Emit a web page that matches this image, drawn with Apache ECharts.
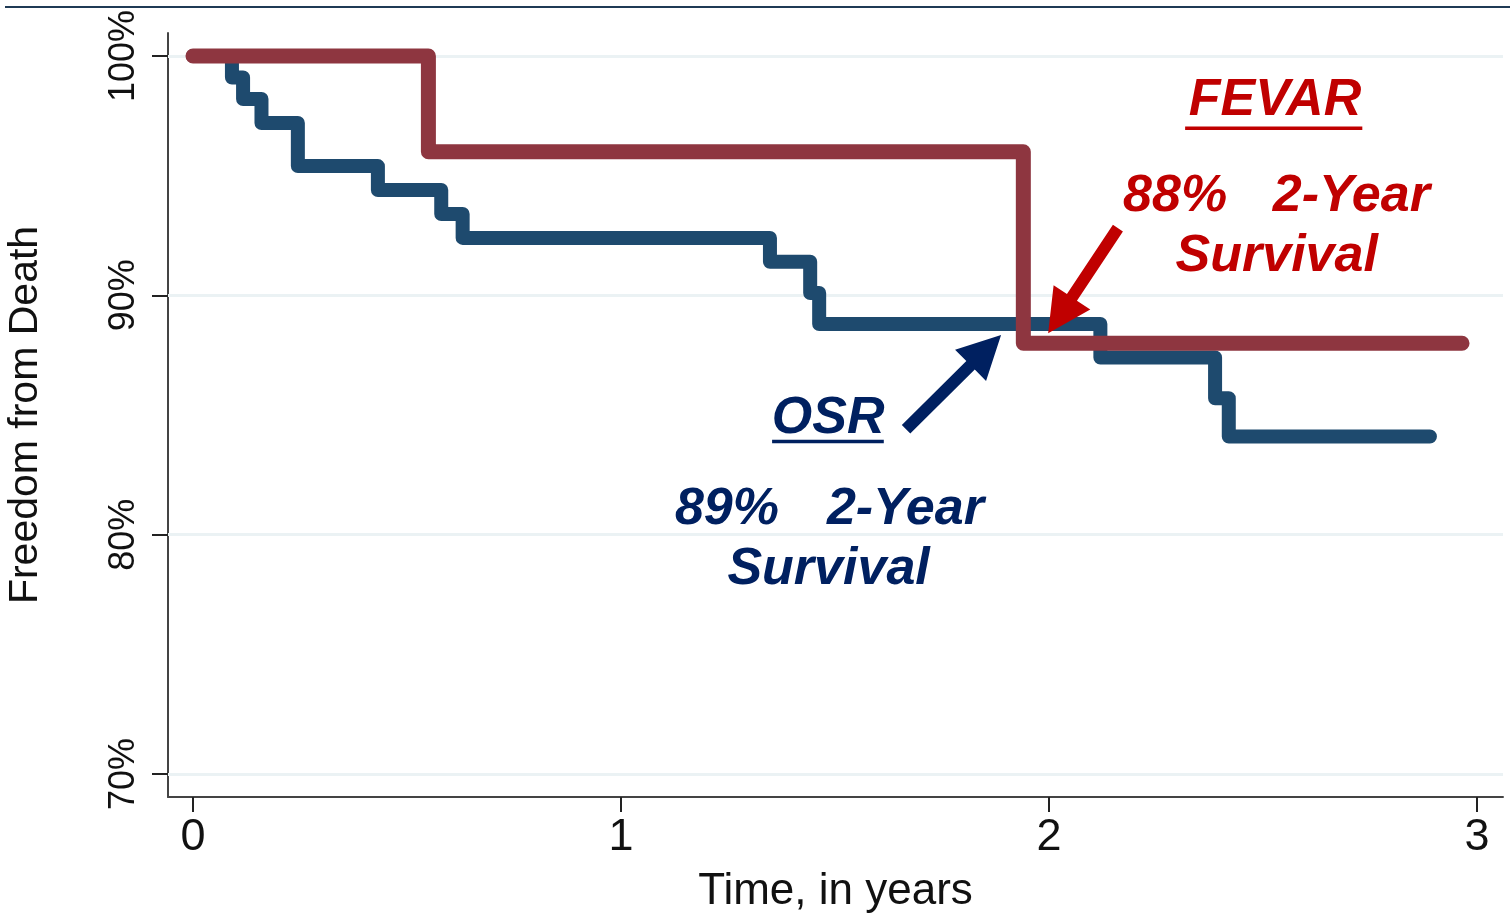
<!DOCTYPE html>
<html>
<head>
<meta charset="utf-8">
<script src="https://cdn.jsdelivr.net/npm/echarts@6/dist/echarts.min.js"></script>
<style>
html,body{margin:0;padding:0;background:#fff;}
#chart{width:1510px;height:916px;}
</style>
</head>
<body>
<div id="chart"></div>
<script>
// ---- Data ----
var osrTime   = [0, 0.091, 0.117, 0.160, 0.245, 0.432, 0.580, 0.630, 1.348, 1.442, 1.463, 2.120, 2.388, 2.420, 2.890];
var osrSurv   = [100, 99.1, 98.2, 97.2, 95.4, 94.4, 93.4, 92.4, 91.4, 90.1, 88.8, 87.4, 85.7, 84.1, 84.1];
var fevarTime = [0, 0.550, 1.940, 2.965];
var fevarSurv = [100, 96.0, 88.0, 88.0];
var xTicks = [0, 1, 2, 3];
var yTicks = [70, 80, 90, 100];
var yTickLabels = ['70%', '80%', '90%', '100%'];

var RED_LINE = '#8E3640', BLUE_LINE = '#1E4A6E';
var RED_TXT = '#C00000', NAVY_TXT = '#002060';
var sans = "'Liberation Sans',Arial,Helvetica,sans-serif";

function pairs(xs, ys){ return xs.map(function(x,i){ return [x, ys[i]]; }); }

var chart = echarts.init(document.getElementById('chart'));
chart.setOption({
  animation: false,
  backgroundColor: '#fff',
  grid: {left: 168, right: 7, top: 33, bottom: 119, containLabel: false, outerBoundsMode: 'none'},
  xAxis: {
    type: 'value', min: -0.0584, max: 3.0607,
    name: 'Time, in years', nameLocation: 'middle', nameGap: 73,
    nameTextStyle: {fontFamily: sans, fontSize: 44, color: '#111'},
    axisLine: {onZero: false, lineStyle: {color: '#444', width: 2}},
    axisTick: {customValues: xTicks, length: 15, lineStyle: {color: '#222', width: 2}},
    axisLabel: {customValues: xTicks, margin: 18, fontFamily: sans, fontSize: 45, color: '#111'},
    splitLine: {show: false}
  },
  yAxis: {
    type: 'value', min: 69.04, max: 100.96,
    name: 'Freedom from Death', nameLocation: 'middle', nameGap: 122,
    nameTextStyle: {fontFamily: sans, fontSize: 41, color: '#111'},
    axisLine: {onZero: false, lineStyle: {color: '#444', width: 2}},
    axisTick: {customValues: yTicks, length: 16, lineStyle: {color: '#222', width: 2}},
    axisLabel: {customValues: yTicks, rotate: 90, margin: 26, fontFamily: sans, fontSize: 36, color: '#111',
      formatter: function(v){ var i = yTicks.indexOf(v); return i >= 0 ? yTickLabels[i] : ''; }},
    splitLine: {show: false}
  },
  series: [
    {
      type: 'line', data: [], z: 1, silent: true,
      markLine: {silent: true, z: 1, zlevel: 0, symbol: 'none', label: {show: false},
        lineStyle: {color: '#EBF2F4', width: 3, type: 'solid'},
        data: yTicks.map(function(v){ return {yAxis: v}; })}
    },
    {
      name: 'OSR', type: 'line', step: 'end', z: 3, symbol: 'none',
      data: pairs(osrTime, osrSurv),
      lineStyle: {color: BLUE_LINE, width: 14, cap: 'round', join: 'round'}
    },
    {
      name: 'FEVAR', type: 'line', step: 'end', z: 4, symbol: 'none',
      data: pairs(fevarTime, fevarSurv),
      lineStyle: {color: RED_LINE, width: 15, cap: 'round', join: 'round'}
    }
  ]
});

// ---- Annotations (positions in data coordinates) ----
var texts = [
  {t: 'FEVAR',    x: 2.528, y: 98.12, align: 'center', c: RED_TXT},
  {t: '88%',      x: 2.173, y: 94.13, align: 'left',   c: RED_TXT},
  {t: '2-Year',   x: 2.523, y: 94.13, align: 'left',   c: RED_TXT},
  {t: 'Survival', x: 2.532, y: 91.62, align: 'center', c: RED_TXT},
  {t: 'OSR',      x: 1.484, y: 84.85, align: 'center', c: NAVY_TXT},
  {t: '89%',      x: 1.126, y: 81.05, align: 'left',   c: NAVY_TXT},
  {t: '2-Year',   x: 1.481, y: 81.05, align: 'left',   c: NAVY_TXT},
  {t: 'Survival', x: 1.485, y: 78.52, align: 'center', c: NAVY_TXT}
];
var underlines = [
  {x1: 2.318, x2: 2.732, y: 96.98, c: RED_TXT},
  {x1: 1.353, x2: 1.614, y: 83.89, c: NAVY_TXT}
];
var arrows = [
  {x1: 2.161, y1: 92.81, x2: 1.998, y2: 88.42, c: RED_TXT},
  {x1: 1.666, y1: 84.40, x2: 1.888, y2: 88.34, c: NAVY_TXT}
];

function px(x, y){ return chart.convertToPixel({gridIndex: 0}, [x, y]); }
var g = [];
// top border line of the figure
g.push({type: 'line', shape: {x1: 5, y1: 7, x2: 1510, y2: 7}, style: {stroke: '#1F3A55', lineWidth: 2}, z: 10});
texts.forEach(function(a){
  var p = px(a.x, a.y);
  g.push({type: 'text', x: p[0], y: p[1], z: 20,
    style: {text: a.t, fill: a.c, font: 'italic bold 52px ' + sans, align: a.align, verticalAlign: 'middle'}});
});
underlines.forEach(function(u){
  var a = px(u.x1, u.y), b = px(u.x2, u.y);
  g.push({type: 'line', z: 20, shape: {x1: a[0], y1: a[1], x2: b[0], y2: b[1]}, style: {stroke: u.c, lineWidth: 3.5}});
});
arrows.forEach(function(ar){
  var t = px(ar.x1, ar.y1), h = px(ar.x2, ar.y2);
  var dx = h[0]-t[0], dy = h[1]-t[1], L = Math.sqrt(dx*dx+dy*dy);
  var ux = dx/L, uy = dy/L, nx = -uy, ny = ux;
  var headL = 43, headW = 22, sw = 6;
  var bx = h[0]-ux*headL, by = h[1]-uy*headL;
  g.push({type: 'polygon', z: 20, shape: {points: [
    [t[0]+nx*sw, t[1]+ny*sw], [bx+nx*sw, by+ny*sw], [bx+nx*headW, by+ny*headW], [h[0], h[1]],
    [bx-nx*headW, by-ny*headW], [bx-nx*sw, by-ny*sw], [t[0]-nx*sw, t[1]-ny*sw]
  ]}, style: {fill: ar.c}});
});
chart.setOption({graphic: g});
</script>
</body>
</html>
